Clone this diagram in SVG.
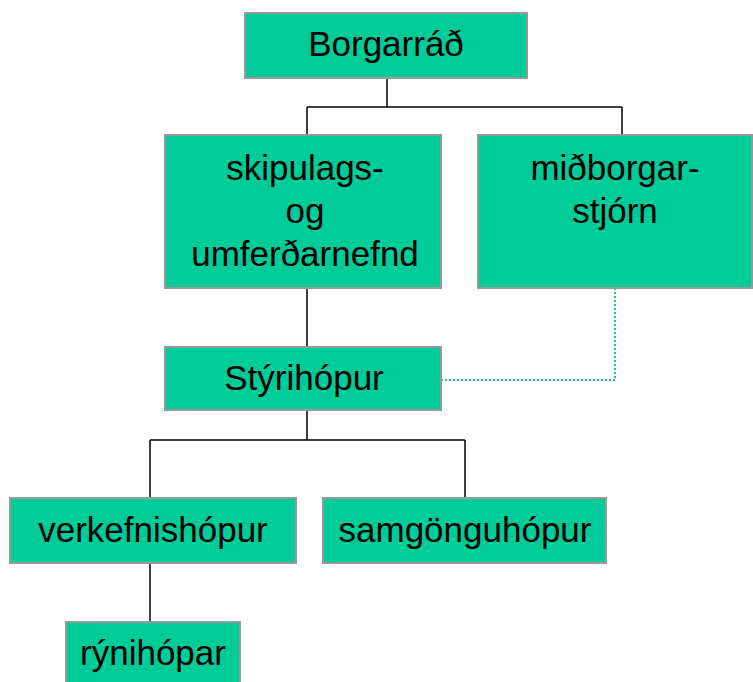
<svg xmlns="http://www.w3.org/2000/svg" width="753" height="682" viewBox="0 0 753 682">
<style>
.box{fill:#00CC99;stroke:#999999;stroke-width:2}
.t{font-family:"Liberation Sans",Arial,sans-serif;font-size:35px;fill:#000;text-anchor:middle}
.c{fill:none;stroke:#000;stroke-width:1.5}
.d{fill:none;stroke:#1fbf8f;stroke-width:2;stroke-dasharray:2 2}
</style>
<rect width="753" height="682" fill="#fff"/>
<g id="connectors">
<path class="c" d="M387 78V107M307 107H622M307 107V135M622 107V135"/>
<path class="c" d="M307 288V347"/>
<path class="c" d="M307 410V440M150 440H465M150 440V498M465 440V498"/>
<path class="c" d="M150 563V622"/>
<path class="d" d="M441 380H615V288"/>
</g>
<g id="borgarrad"><rect class="box" x="245" y="13" width="282" height="65"/><text class="t" x="386" y="56">Borgarráð</text></g>
<g id="skipulags"><rect class="box" x="165" y="135" width="276" height="153"/><text class="t" x="305" y="180">skipulags-</text><text class="t" x="305" y="223">og</text><text class="t" x="305" y="266">umferðarnefnd</text></g>
<g id="midborgar"><rect class="box" x="478" y="135" width="274" height="153"/><text class="t" x="615" y="180">miðborgar-</text><text class="t" x="615" y="223">stjórn</text></g>
<g id="styrihopur"><rect class="box" x="165" y="347" width="276" height="63"/><text class="t" x="304" y="390">Stýrihópur</text></g>
<g id="verkefnishopur"><rect class="box" x="10" y="498" width="286" height="65"/><text class="t" x="153" y="542">verkefnishópur</text></g>
<g id="samgonguhopur"><rect class="box" x="323" y="498" width="283" height="65"/><text class="t" x="465" y="542">samgönguhópur</text></g>
<g id="rynihopar"><rect class="box" x="66" y="622" width="174" height="70"/><text class="t" x="153" y="665">rýnihópar</text></g>
</svg>
